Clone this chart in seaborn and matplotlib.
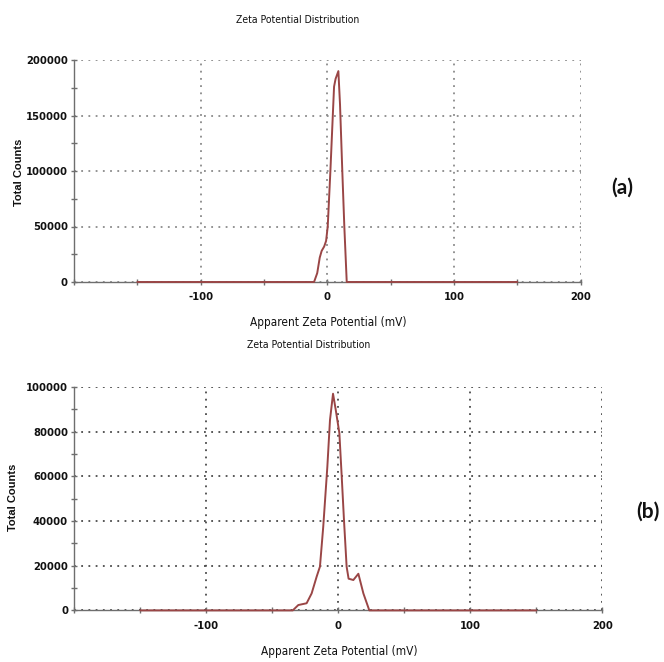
import matplotlib
matplotlib.use("Agg")
import matplotlib.pyplot as plt
import matplotlib.ticker as mticker
import numpy as np
import pandas as pd
import seaborn as sns

# Zeta potential distribution, sample (a)
zeta_a = [-150, -10.5, -8, -6, -4.5, -2.5, -1, 0.3, 2.4, 4.3, 5.3, 6.5, 8.7,
          10, 11.8, 13.4, 15.3, 150]
counts_a = [0, 0, 8000, 22000, 28000, 32000, 37000, 50000, 100000, 150000,
            176000, 183000, 190000, 160000, 100000, 50000, 0, 0]

# Zeta potential distribution, sample (b)
zeta_b = [-150, -34.5, -30.3, -24, -20.2, -16.4, -13.9, -11.4, -8.3, -6.3, -4,
          -2, 0.8, 2.6, 4.3, 6.3, 7.8, 11.4, 15.2, 19, 23.5, 150]
counts_b = [0, 0, 2400, 3200, 7600, 15100, 19600, 37500, 64300, 85200, 97000,
            90000, 79400, 59800, 40500, 19600, 14200, 13600, 16400, 7600, 0, 0]

x_ticks = [-100, 0, 100, 200]
y_ticks_a = [0, 50000, 100000, 150000, 200000]
y_ticks_b = [0, 20000, 40000, 60000, 80000, 100000]

title = "Zeta Potential Distribution"
x_label = "Apparent Zeta Potential (mV)"
y_label = "Total Counts"

sns.set_theme(style="white")
plt.rcParams["font.family"] = ["DejaVu Sans"]
plt.rcParams["font.stretch"] = "condensed"
plt.rcParams["axes.unicode_minus"] = False

fig = plt.figure(figsize=(6.64, 6.62), dpi=100)
W, H = 664, 662


def px_axes(left, top, right, bottom):
    return fig.add_axes([left / W, 1 - bottom / H, (right - left) / W, (bottom - top) / H])


line_color = "#9a4646"
spine_color = "#6e6e6e"
text_color = "#111111"


def style_axes(ax, yt, ymax, y_minor, grid_color):
    ax.set_xlim(-200, 200)
    ax.set_ylim(0, ymax)
    ax.set_xticks(x_ticks)
    ax.set_yticks(yt)
    ax.xaxis.set_minor_locator(mticker.MultipleLocator(50))
    ax.yaxis.set_minor_locator(mticker.MultipleLocator(y_minor))
    ax.yaxis.set_major_formatter(mticker.FuncFormatter(lambda v, p: f"{int(v)}"))
    ax.xaxis.set_major_formatter(mticker.FuncFormatter(lambda v, p: f"{int(v)}"))
    ax.grid(True, which="major", color=grid_color, linestyle=(0, (1, 3)), linewidth=1.3)
    for s in ("top", "right"):
        ax.spines[s].set_visible(False)
    for s in ("left", "bottom"):
        ax.spines[s].set_color(spine_color)
        ax.spines[s].set_linewidth(1.0)
    ax.tick_params(axis="both", which="both", direction="inout", color=spine_color,
                   bottom=True, left=True, labelsize=8, labelcolor=text_color)
    ax.tick_params(axis="both", which="major", length=5, width=1)
    ax.tick_params(axis="both", which="minor", length=5, width=1)
    ax.tick_params(axis="x", which="major", pad=5)
    ax.tick_params(axis="y", which="major", pad=2)
    for lab in ax.get_xticklabels() + ax.get_yticklabels():
        lab.set_fontweight("bold")
    ax.set_xlabel("")
    ax.set_ylabel("")
    ax.set_facecolor("white")


# (a)
ax_a = px_axes(74, 60, 580.7, 282)
df_a = pd.DataFrame({"zeta": zeta_a, "counts": counts_a})
sns.lineplot(data=df_a, x="zeta", y="counts", ax=ax_a, sort=False, estimator=None,
             color=line_color, linewidth=1.4, clip_on=False, zorder=5)
style_axes(ax_a, y_ticks_a, 200000, 25000, "#8a8a8a")

# (b)
ax_b = px_axes(74.3, 387, 602.3, 610.4)
df_b = pd.DataFrame({"zeta": zeta_b, "counts": counts_b})
sns.lineplot(data=df_b, x="zeta", y="counts", ax=ax_b, sort=False, estimator=None,
             color=line_color, linewidth=1.4, clip_on=False, zorder=5)
style_axes(ax_b, y_ticks_b, 100000, 10000, "#4a4a4a")

# titles, axis labels and panel tags
label_font = dict(color=text_color, ha="center", va="center")
fig.text(298 / W, 1 - 20 / H, title, fontsize=7.5, **label_font)
fig.text(309 / W, 1 - 345 / H, title, fontsize=7.5, **label_font)
fig.text(328 / W, 1 - 322 / H, x_label, fontsize=8.5, **label_font)
fig.text(339 / W, 1 - 652 / H, x_label, fontsize=8.5, **label_font)
fig.text(19 / W, 1 - 172 / H, y_label, fontsize=8, rotation=90, weight="bold",
         family=["Liberation Sans", "DejaVu Sans"], stretch="normal", **label_font)
fig.text(13 / W, 1 - 497 / H, y_label, fontsize=8, rotation=90, weight="bold",
         family=["Liberation Sans", "DejaVu Sans"], stretch="normal", **label_font)
fig.text(622 / W, 1 - 188 / H, "(a)", fontsize=15, weight="bold",
         family=["Lato", "DejaVu Sans"], stretch="normal", **label_font)
fig.text(648 / W, 1 - 512 / H, "(b)", fontsize=15, weight="bold",
         family=["Lato", "DejaVu Sans"], stretch="normal", **label_font)

fig.savefig("out.png", dpi=100, facecolor="white")
